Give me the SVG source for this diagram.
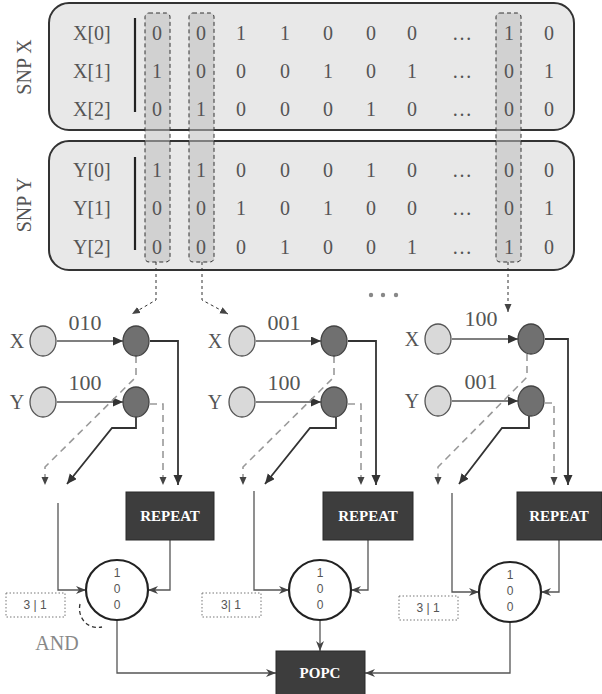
<svg xmlns="http://www.w3.org/2000/svg" width="602" height="694" viewBox="0 0 602 694">
  <style>
    .snp { fill: #e8e8e8; stroke: #333; stroke-width: 2; }
    .hl { fill: #bdbdbd; fill-opacity: 0.55; stroke: #333; stroke-width: 1; stroke-dasharray: 4 3; }
    .bar { stroke: #222; stroke-width: 2.2; }
    .serif { font-family: "Liberation Serif", "Times New Roman", serif; fill: #555; }
    .cell { font-size: 20px; text-anchor: middle; }
    .lbl { font-size: 20px; }
    .bits { font-size: 22px; text-anchor: middle; }
    .sans { font-family: "Liberation Sans", Arial, sans-serif; fill: #555; text-anchor: middle; }
    .light { fill: #d9d9d9; stroke: #555; stroke-width: 1.3; }
    .dark { fill: #707070; stroke: #444; stroke-width: 1.3; }
    .blk { fill: #3d3d3d; stroke: #2a2a2a; stroke-width: 1; }
    .blktxt { font-family: "Liberation Serif", "Times New Roman", serif; font-weight: bold; font-size: 15px; fill: #fff; text-anchor: middle; }
    .and { fill: #fff; stroke: #222; stroke-width: 2.2; }
    .dot { fill: none; stroke: #777; stroke-width: 1; stroke-dasharray: 1.5 2; }
    .ln { fill: none; stroke: #555; stroke-width: 1.3; }
    .sol { fill: none; stroke: #333; stroke-width: 1.8; }
    .dsh { fill: none; stroke: #999; stroke-width: 1.6; stroke-dasharray: 7 5; }
    .sel { fill: none; stroke: #333; stroke-width: 1; stroke-dasharray: 3 3; }
  </style>
  <defs>
    <marker id="tri" markerUnits="userSpaceOnUse" markerWidth="11" markerHeight="10" refX="10" refY="4.5" orient="auto">
      <path d="M0,0 L10,4.5 L0,9 z" fill="#333"/>
    </marker>
    <marker id="tri-s" markerUnits="userSpaceOnUse" markerWidth="9" markerHeight="8" refX="8" refY="3.5" orient="auto">
      <path d="M0,0 L8,3.5 L0,7 z" fill="#444"/>
    </marker>
    <marker id="vee" markerUnits="userSpaceOnUse" markerWidth="11" markerHeight="10" refX="10" refY="4" orient="auto">
      <path d="M0,0 L10,4 L0,8 L3,4 z" fill="#444"/>
    </marker>
  </defs>

  <!-- SNP X matrix -->
  <g id="snp-x">
    <rect class="snp" x="49" y="3" width="525" height="127" rx="20"/>
    <text class="serif lbl" transform="translate(31,67) rotate(-90)" text-anchor="middle">SNP X</text>
    <line class="bar" x1="135" y1="18" x2="135" y2="112"/>
    <text class="serif lbl" x="73" y="40">X[0]</text>
    <text class="serif lbl" x="73" y="78">X[1]</text>
    <text class="serif lbl" x="73" y="116">X[2]</text>
  </g>

  <!-- SNP Y matrix -->
  <g id="snp-y">
    <rect class="snp" x="49" y="141" width="525" height="129" rx="20"/>
    <text class="serif lbl" transform="translate(31,205) rotate(-90)" text-anchor="middle">SNP Y</text>
    <line class="bar" x1="135" y1="157" x2="135" y2="250"/>
    <text class="serif lbl" x="73" y="177">Y[0]</text>
    <text class="serif lbl" x="73" y="215">Y[1]</text>
    <text class="serif lbl" x="73" y="254">Y[2]</text>
  </g>

  <!-- selected columns -->
  <g id="selected-columns">
    <rect class="hl" x="145" y="13" width="25" height="249" rx="4"/>
    <rect class="hl" x="189" y="13" width="25" height="249" rx="4"/>
    <rect class="hl" x="496" y="13" width="25" height="249" rx="4"/>
  </g>

  <!-- matrix cells -->
  <g id="cells" class="serif cell">
    <text y="40"><tspan x="157">0</tspan><tspan x="201">0</tspan><tspan x="241">1</tspan><tspan x="285">1</tspan><tspan x="328">0</tspan><tspan x="371">0</tspan><tspan x="412">0</tspan><tspan x="462">…</tspan><tspan x="509">1</tspan><tspan x="549">0</tspan></text>
    <text y="78"><tspan x="157">1</tspan><tspan x="201">0</tspan><tspan x="241">0</tspan><tspan x="285">0</tspan><tspan x="328">1</tspan><tspan x="371">0</tspan><tspan x="412">1</tspan><tspan x="462">…</tspan><tspan x="509">0</tspan><tspan x="549">1</tspan></text>
    <text y="116"><tspan x="157">0</tspan><tspan x="201">1</tspan><tspan x="241">0</tspan><tspan x="285">0</tspan><tspan x="328">0</tspan><tspan x="371">1</tspan><tspan x="412">0</tspan><tspan x="462">…</tspan><tspan x="509">0</tspan><tspan x="549">0</tspan></text>
    <text y="177"><tspan x="157">1</tspan><tspan x="201">1</tspan><tspan x="241">0</tspan><tspan x="285">0</tspan><tspan x="328">0</tspan><tspan x="371">1</tspan><tspan x="412">0</tspan><tspan x="462">…</tspan><tspan x="509">0</tspan><tspan x="549">0</tspan></text>
    <text y="215"><tspan x="157">0</tspan><tspan x="201">0</tspan><tspan x="241">1</tspan><tspan x="285">0</tspan><tspan x="328">1</tspan><tspan x="371">0</tspan><tspan x="412">0</tspan><tspan x="462">…</tspan><tspan x="509">0</tspan><tspan x="549">1</tspan></text>
    <text y="254"><tspan x="157">0</tspan><tspan x="201">0</tspan><tspan x="241">0</tspan><tspan x="285">1</tspan><tspan x="328">0</tspan><tspan x="371">0</tspan><tspan x="412">1</tspan><tspan x="462">…</tspan><tspan x="509">1</tspan><tspan x="549">0</tspan></text>
  </g>

  <!-- connectors -->
  <g id="connectors">
    <!-- column picks -->
    <path class="sel" d="M156,262 V300 L132,314" marker-end="url(#tri-s)"/>
    <path class="sel" d="M202,262 V300 L228,314" marker-end="url(#tri-s)"/>
    <path class="sel" d="M508,262 V312" marker-end="url(#tri-s)"/>

    <!-- column 1 -->
    <path class="ln" d="M57,341 H123" marker-end="url(#tri)"/>
    <path class="ln" d="M57,402 H123" marker-end="url(#tri)"/>
    <path class="sol" d="M150,341 H178 V485" marker-end="url(#tri)"/>
    <path class="dsh" d="M150,404 H163 V485" marker-end="url(#tri-s)"/>
    <path class="dsh" d="M136,356 V377 L45,467 V485" marker-end="url(#tri-s)"/>
    <path class="sol" d="M136,417 V428 H112 L67,484" marker-end="url(#tri)"/>
    <path class="ln" d="M58,503 V590 H86" marker-end="url(#vee)"/>
    <path class="ln" d="M170,540 V590 H148" marker-end="url(#vee)"/>
    <path class="ln" d="M117,620 V673 H276" marker-end="url(#vee)"/>
    <path fill="none" stroke="#333" stroke-width="1.3" stroke-dasharray="4 3" d="M80,604 C77,618 88,630 102,627"/>

    <!-- column 2 -->
    <path class="ln" d="M256,341 H321" marker-end="url(#tri)"/>
    <path class="ln" d="M256,402 H321" marker-end="url(#tri)"/>
    <path class="sol" d="M348,341 H376 V485" marker-end="url(#tri)"/>
    <path class="dsh" d="M348,404 H361 V485" marker-end="url(#tri-s)"/>
    <path class="dsh" d="M334,356 V377 L243,467 V485" marker-end="url(#tri-s)"/>
    <path class="sol" d="M336,417 V428 H310 L265,484" marker-end="url(#tri)"/>
    <path class="ln" d="M254,491 V590 H289" marker-end="url(#vee)"/>
    <path class="ln" d="M368,540 V590 H351" marker-end="url(#vee)"/>
    <path class="ln" d="M320,620 V651" marker-end="url(#vee)"/>

    <!-- column 3 -->
    <path class="ln" d="M452,339 H518" marker-end="url(#tri)"/>
    <path class="ln" d="M452,401 H518" marker-end="url(#tri)"/>
    <path class="sol" d="M545,339 H568 V485" marker-end="url(#tri)"/>
    <path class="dsh" d="M545,403 H554 V485" marker-end="url(#tri-s)"/>
    <path class="dsh" d="M527,354 V377 L438,467 V485" marker-end="url(#tri-s)"/>
    <path class="sol" d="M529,416 V428 H502 L459,484" marker-end="url(#tri)"/>
    <path class="ln" d="M452,493 V592 H479" marker-end="url(#vee)"/>
    <path class="ln" d="M559,540 V592 H541" marker-end="url(#vee)"/>
    <path class="ln" d="M510,622 V673 H365" marker-end="url(#vee)"/>
  </g>

  <!-- more columns -->
  <g id="ellipsis" fill="#888">
    <circle cx="371" cy="295" r="2.2"/>
    <circle cx="383" cy="295" r="2.2"/>
    <circle cx="396" cy="295" r="2.2"/>
  </g>

  <!-- column 1 nodes -->
  <g id="c1-x">
    <text class="serif lbl" x="17" y="348" text-anchor="middle">X</text>
    <ellipse class="light" cx="43" cy="341" rx="13" ry="15"/>
  </g>
  <g id="c1-y">
    <text class="serif lbl" x="17" y="409" text-anchor="middle">Y</text>
    <ellipse class="light" cx="43" cy="402" rx="13" ry="15"/>
  </g>
  <g id="c1-bx"><ellipse class="dark" cx="136" cy="341" rx="13" ry="15"/></g>
  <g id="c1-by"><ellipse class="dark" cx="136" cy="402" rx="13" ry="15"/></g>
  <g id="c1-bits" class="serif bits">
    <text x="85" y="330">010</text>
    <text x="85" y="390">100</text>
  </g>
  <g id="c1-repeat">
    <rect class="blk" x="126" y="492" width="88" height="48"/>
    <text class="blktxt" x="170" y="521">REPEAT</text>
  </g>
  <g id="c1-and">
    <ellipse class="and" cx="117" cy="590" rx="31" ry="30"/>
    <text class="sans" font-size="12" x="117" y="577">1</text>
    <text class="sans" font-size="12" x="117" y="593">0</text>
    <text class="sans" font-size="12" x="117" y="609">0</text>
  </g>
  <g id="c1-count">
    <rect class="dot" x="6" y="593" width="59" height="24"/>
    <text class="sans" font-size="12" x="35" y="609">3 | 1</text>
  </g>
  <g id="and-label">
    <text class="serif" font-size="20" x="57" y="650" text-anchor="middle" fill="#888" style="fill:#888">AND</text>
  </g>

  <!-- column 2 nodes -->
  <g id="c2-x">
    <text class="serif lbl" x="215" y="348" text-anchor="middle">X</text>
    <ellipse class="light" cx="242" cy="341" rx="13" ry="15"/>
  </g>
  <g id="c2-y">
    <text class="serif lbl" x="215" y="409" text-anchor="middle">Y</text>
    <ellipse class="light" cx="242" cy="402" rx="13" ry="15"/>
  </g>
  <g id="c2-bx"><ellipse class="dark" cx="334" cy="341" rx="13" ry="15"/></g>
  <g id="c2-by"><ellipse class="dark" cx="334" cy="402" rx="13" ry="15"/></g>
  <g id="c2-bits" class="serif bits">
    <text x="284" y="330">001</text>
    <text x="284" y="390">100</text>
  </g>
  <g id="c2-repeat">
    <rect class="blk" x="323" y="492" width="90" height="48"/>
    <text class="blktxt" x="368" y="521">REPEAT</text>
  </g>
  <g id="c2-and">
    <ellipse class="and" cx="320" cy="590" rx="31" ry="30"/>
    <text class="sans" font-size="12" x="320" y="577">1</text>
    <text class="sans" font-size="12" x="320" y="593">0</text>
    <text class="sans" font-size="12" x="320" y="609">0</text>
  </g>
  <g id="c2-count">
    <rect class="dot" x="202" y="593" width="59" height="24"/>
    <text class="sans" font-size="12" x="231" y="609">3| 1</text>
  </g>

  <!-- column 3 nodes -->
  <g id="c3-x">
    <text class="serif lbl" x="412" y="346" text-anchor="middle">X</text>
    <ellipse class="light" cx="438" cy="339" rx="13" ry="15"/>
  </g>
  <g id="c3-y">
    <text class="serif lbl" x="412" y="408" text-anchor="middle">Y</text>
    <ellipse class="light" cx="438" cy="401" rx="13" ry="15"/>
  </g>
  <g id="c3-bx"><ellipse class="dark" cx="531" cy="339" rx="13" ry="15"/></g>
  <g id="c3-by"><ellipse class="dark" cx="531" cy="401" rx="13" ry="15"/></g>
  <g id="c3-bits" class="serif bits">
    <text x="481" y="326">100</text>
    <text x="481" y="389">001</text>
  </g>
  <g id="c3-repeat">
    <rect class="blk" x="517" y="492" width="85" height="48"/>
    <text class="blktxt" x="559" y="521">REPEAT</text>
  </g>
  <g id="c3-and">
    <ellipse class="and" cx="510" cy="592" rx="31" ry="30"/>
    <text class="sans" font-size="12" x="510" y="579">1</text>
    <text class="sans" font-size="12" x="510" y="595">0</text>
    <text class="sans" font-size="12" x="510" y="611">0</text>
  </g>
  <g id="c3-count">
    <rect class="dot" x="399" y="596" width="59" height="24"/>
    <text class="sans" font-size="12" x="428" y="612">3 | 1</text>
  </g>

  <!-- population count -->
  <g id="popc">
    <rect class="blk" x="276" y="651" width="89" height="46"/>
    <text class="blktxt" x="320" y="678">POPC</text>
  </g>
</svg>
